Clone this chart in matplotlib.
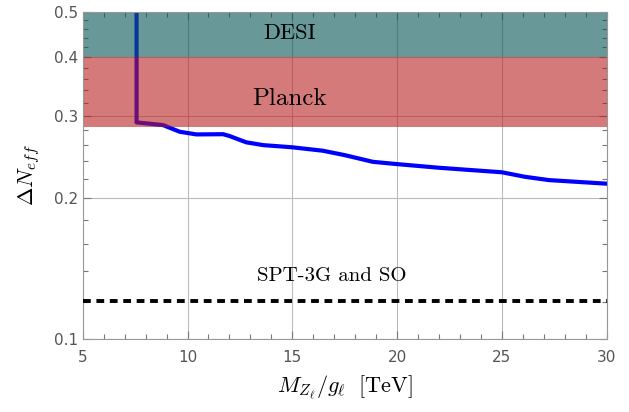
import matplotlib
matplotlib.use("Agg")
from matplotlib import pyplot as plt
from matplotlib.ticker import FixedLocator, NullFormatter

plt.rcParams['mathtext.fontset'] = 'cm'

# curve (M/g in TeV, Delta N_eff)
mass = [7.57, 7.57, 8.84, 9.63, 10.43, 11.7, 12.0, 12.8, 13.6, 15.0,
        16.46, 17.5, 18.84, 20.0, 22.0, 25.0, 26.1, 27.25, 30.0]
dneff = [0.5, 0.2904, 0.2865, 0.2773, 0.2737, 0.274, 0.2716, 0.2633, 0.2597,
         0.2569, 0.2526, 0.2472, 0.2392, 0.2365, 0.2323, 0.2272, 0.2222,
         0.2186, 0.2148]

planck = (0.284, 0.4)
desi = (0.4, 0.5)
spt_so = 0.1205

xticks = [5, 10, 15, 20, 25, 30]
yticks = [0.1, 0.2, 0.3, 0.4, 0.5]

fig = plt.figure(figsize=(6.29, 4.12), dpi=100)
ax = fig.add_axes([0.1315, 0.177, 0.833, 0.794])

ax.plot(mass, dneff, color='blue', lw=3, zorder=2, solid_joinstyle='round')
ax.axhspan(*planck, color=(0.72, 0.1, 0.1), alpha=0.58, lw=0, zorder=2.5)
ax.axhspan(*desi, color=(0.05, 0.35, 0.35), alpha=0.62, lw=0, zorder=2.5)
ax.axhline(spt_so, color='black', lw=2.8, dashes=(2.0, 1.45), zorder=3)

ax.text(14.87, 0.451, "DESI", fontsize=16, family='cmr10', ha='center', va='center', zorder=4)
ax.text(14.85, 0.326, "Planck", fontsize=18, family='cmr10', ha='center', va='center', zorder=4)
ax.text(16.9, 0.1364, "SPT-3G and SO", fontsize=15, family='cmr10', ha='center', va='center', zorder=4)

ax.set_yscale('log')
ax.set_xlim(5, 30)
ax.set_ylim(0.1, 0.5)

ax.set_xticks(xticks)
ax.set_xticklabels([str(t) for t in xticks])
ax.xaxis.set_minor_locator(FixedLocator(range(5, 31)))
ax.set_yticks(yticks)
ax.set_yticklabels([str(t) for t in yticks])
minor_y = [round(0.1 + 0.02 * i, 2) for i in range(21)]
ax.yaxis.set_minor_locator(FixedLocator([v for v in minor_y if v not in yticks]))
ax.yaxis.set_minor_formatter(NullFormatter())

ax.tick_params(which='both', direction='in', top=True, right=True, color='#777777',
               labelcolor='#555555', labelsize=11)
ax.tick_params(which='major', length=6, width=0.8)
ax.tick_params(which='minor', length=3.5, width=0.8)
ax.tick_params(axis='x', pad=8)

ax.grid(which='major', color='#bbbbbb', lw=0.8)
ax.set_axisbelow(True)
for s in ax.spines.values():
    s.set_color('#999999')

ax.set_xlabel(r'$M_{Z_\ell}/g_\ell\ \ [\mathrm{TeV}]$', fontsize=16, labelpad=6)
ax.set_ylabel(r'$\Delta N_{eff}$', fontsize=16, labelpad=8)

fig.savefig("out.png", dpi=100)
